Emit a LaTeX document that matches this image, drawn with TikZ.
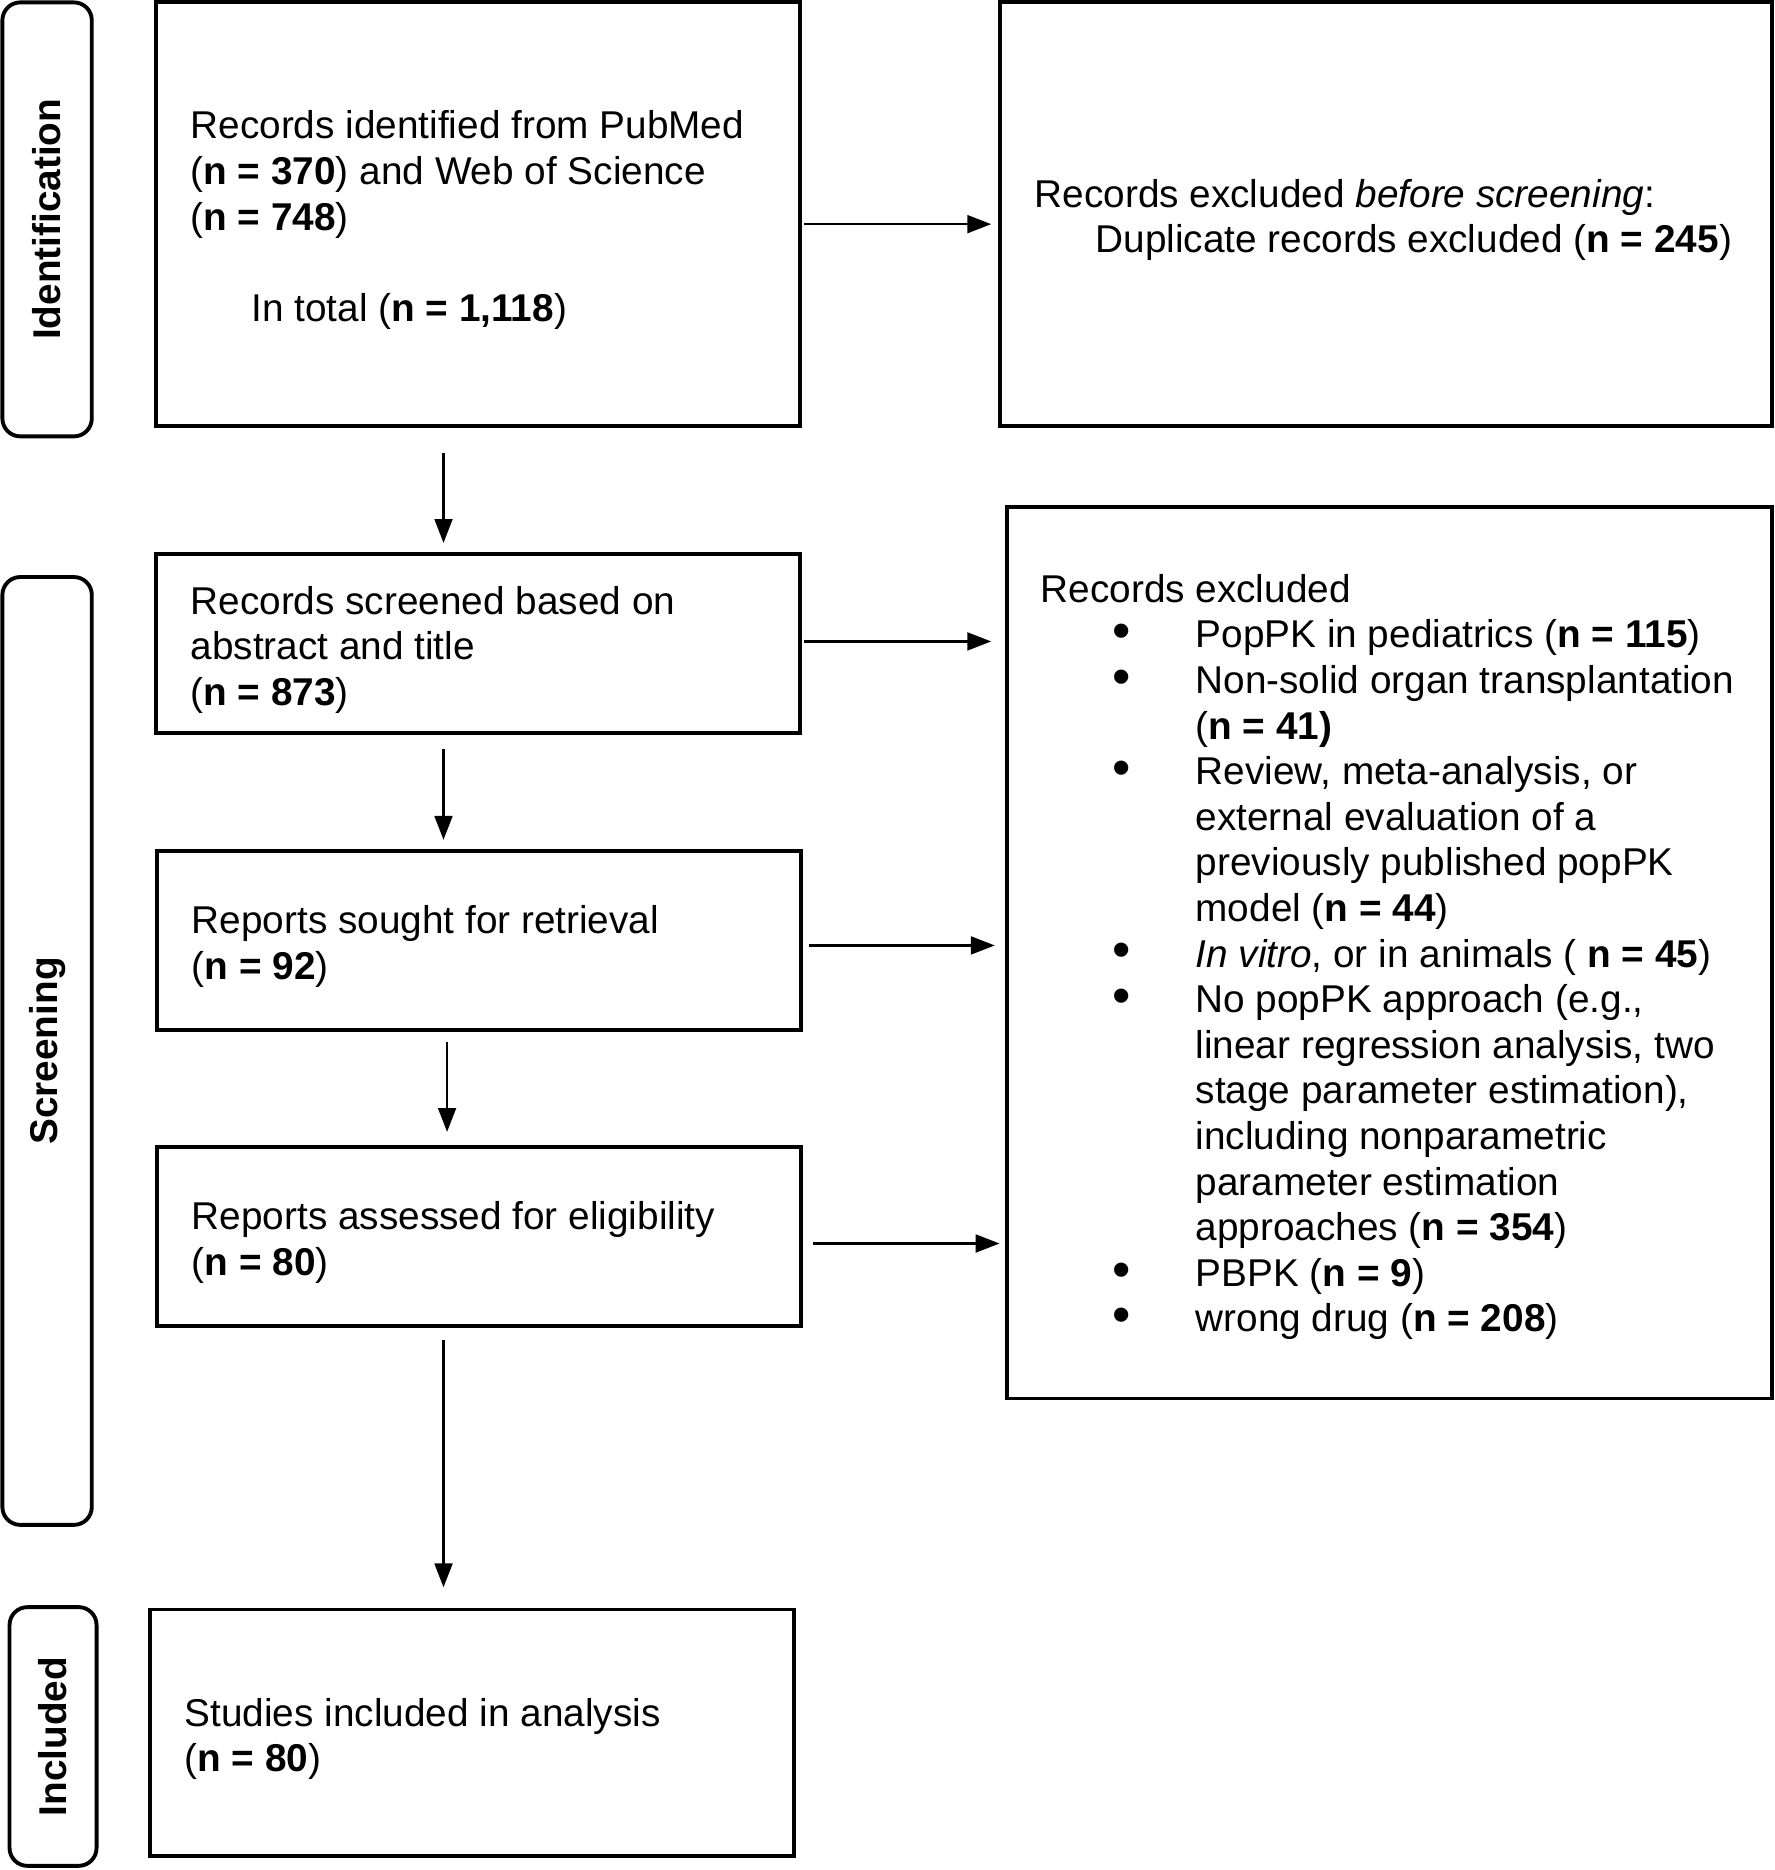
\documentclass[tikz,border=0pt]{standalone}
\usepackage{fontspec}
\setmainfont{Liberation Sans}
\usetikzlibrary{arrows.meta}
\newlength\uu \setlength\uu{0.4pt}
\newcommand\bl{\makebox[130\uu][l]{\hspace*{60\uu}\raisebox{-0.3pt}{\scalebox{1.35}{\textbullet}}}}
\newcommand\ind{\makebox[130\uu]{}}
\begin{document}
\begin{tikzpicture}[x=0.4pt, y=-0.4pt,
  box/.style={draw, line width=1.3pt, rectangle, inner sep=0pt},
  side/.style={draw, line width=1.3pt, rounded corners=6pt, inner sep=0pt},
  sidetxt/.style={rotate=90, inner sep=0pt, font=\fontsize{13pt}{15.3pt}\selectfont\bfseries},
  txt/.style={anchor=west, align=left, inner sep=0pt, font=\fontsize{13pt}{15.3pt}\selectfont},
  arr/.style={-{Triangle[length=8pt,width=6pt]}, line width=0.75pt}]
\useasboundingbox (0,0) rectangle (1488,1568.5);

% side labels
\node[side, minimum width=30pt, minimum height=145.6pt] (L1) at (39.5,184) {};
\node[sidetxt] (L1t) at (L1) {Identification};
\node[side, minimum width=30pt, minimum height=318pt] (L2) at (39.5,881.5) {};
\node[sidetxt] (L2t) at (L2) {Screening};
\node[side, minimum width=29.2pt, minimum height=86.8pt] (L3) at (44.5,1456.5) {};
\node[sidetxt] (L3t) at (L3) {Included};

% boxes
\node[box, minimum width=216pt, minimum height=142pt] (B1) at (401,179.5) {};
\node[box, minimum width=258.8pt, minimum height=142pt] (E1) at (1162.5,179.5) {};
\node[box, minimum width=216pt, minimum height=60pt] (B2) at (401,540) {};
\node[box, minimum width=216pt, minimum height=60pt] (B3) at (402,789) {};
\node[box, minimum width=216pt, minimum height=60pt] (B4) at (402,1037) {};
\node[box, minimum width=256.4pt, minimum height=299.2pt] (E2) at (1165.5,799) {};
\node[box, minimum width=216pt, minimum height=82.8pt] (B5) at (396,1453.5) {};

% texts
\node[txt] (t1) at ([xshift=12pt, yshift=-2pt]B1.west) {Records identified from PubMed\\(\textbf{n = 370}) and Web of Science\\(\textbf{n = 748})\\[15.3pt]\hspace*{51\uu}In total (\textbf{n = 1,118})};
\node[txt] (te1) at ([xshift=12pt, yshift=-2pt]E1.west) {Records excluded \textit{before screening}:\\\hspace*{51\uu}Duplicate records excluded (\textbf{n = 245})};
\node[txt] (t2) at ([xshift=12pt, yshift=-2pt]B2.west) {Records screened based on\\abstract and title\\(\textbf{n = 873})};
\node[txt] (t3) at ([xshift=12pt, yshift=-2pt]B3.west) {Reports sought for retrieval\\(\textbf{n = 92})};
\node[txt] (t4) at ([xshift=12pt, yshift=-2pt]B4.west) {Reports assessed for eligibility\\(\textbf{n = 80})};
\node[txt] (t5) at ([xshift=12pt, yshift=-2pt]B5.west) {Studies included in analysis\\(\textbf{n = 80})};
\node[txt] (te2) at ([xshift=11.6pt, yshift=-1.5pt]E2.west) {Records excluded\\
\bl PopPK in pediatrics (\textbf{n = 115})\\
\bl Non-solid organ transplantation\\
\ind(\textbf{n = 41)}\\
\bl Review, meta-analysis, or\\
\ind external evaluation of a\\
\ind previously published popPK\\
\ind model (\textbf{n = 44})\\
\bl \textit{In vitro}, or in animals ( \textbf{n = 45})\\
\bl No popPK approach (e.g.,\\
\ind linear regression analysis, two\\
\ind stage parameter estimation),\\
\ind including nonparametric\\
\ind parameter estimation\\
\ind approaches (\textbf{n = 354})\\
\bl PBPK (\textbf{n = 9})\\
\bl wrong drug (\textbf{n = 208})};

% connectors
\coordinate (x372) at (372,0);
\coordinate (x375) at (375,0);
\draw[arr, shorten <=0.8pt, shorten >=2.4pt] ([yshift=-3.4pt]B1.east) -- ([yshift=-3.4pt]E1.west);
\draw[arr, shorten <=0.8pt, shorten >=4.8pt] ([yshift=0.8pt]B2.east) -- ([yshift=0.8pt]B2.east -| E2.west);
\draw[arr, shorten <=2pt, shorten >=3.6pt] ([yshift=-1.6pt]B3.east) -- ([yshift=-1.6pt]B3.east -| E2.west);
\draw[arr, shorten <=3.2pt, shorten >=2pt] ([yshift=-2.4pt]B4.east) -- ([yshift=-2.4pt]B4.east -| E2.west);
\draw[arr, shorten <=8.4pt, shorten >=3.2pt] (B1.south -| x372) -- (B2.north -| x372);
\draw[arr, shorten <=4.8pt, shorten >=3.2pt] (B2.south -| x372) -- (B3.north -| x372);
\draw[arr, shorten <=3.2pt, shorten >=4.4pt] (B3.south -| x375) -- (B4.north -| x375);
\draw[arr, shorten <=4pt, shorten >=6.8pt] (B4.south -| x372) -- (B5.north -| x372);
\end{tikzpicture}
\end{document}
